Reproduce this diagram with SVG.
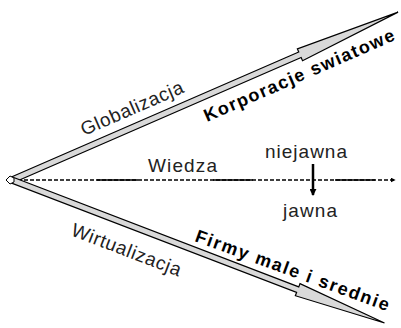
<svg xmlns="http://www.w3.org/2000/svg" width="401" height="328" viewBox="0 0 401 328">
  <style>
    .band { fill: #d9d9d9; stroke: #000; stroke-width: 1.2; stroke-linejoin: miter; }
    .lbl { font-family: "Liberation Sans", Arial, sans-serif; font-size: 19px; fill: #222; }
    .bold { font-weight: bold; font-size: 18px; fill: #000; }
    .axis { stroke: #000; stroke-width: 1.3; fill: none; }
  </style>
  <defs>
    <marker id="tipSmall" viewBox="0 0 8 8" refX="7" refY="4" markerWidth="5" markerHeight="5" orient="auto" markerUnits="userSpaceOnUse">
      <path d="M0,0 L8,4 L0,8 Z" fill="#000"/>
    </marker>
    <marker id="tipDown" viewBox="0 0 8 8" refX="7" refY="4" markerWidth="7" markerHeight="7" orient="auto" markerUnits="userSpaceOnUse">
      <path d="M0,0 L8,4 L0,8 Z" fill="#000"/>
    </marker>
  </defs>

  <g id="connectors">
    <!-- knowledge axis: dashed with solid stretches -->
    <path class="axis" d="M18,180 H395" stroke-dasharray="4 2" marker-end="url(#tipSmall)"/>
    <path class="axis" d="M97,180 H138 M213,180 H253 M335,180 H375"/>
    <!-- tacit to explicit -->
    <path d="M313,164 V195" stroke="#000" stroke-width="2.5" fill="none" marker-end="url(#tipDown)"/>
  </g>

  <g id="globalizacja-arrow" transform="translate(12,180) rotate(-23.5)">
    <polygon class="band" points="0,-3 314,-3 314,-6.5 421,0 314,6.5 314,3 0,3"/>
  </g>
  <g id="wirtualizacja-arrow" transform="translate(12,180) rotate(21)">
    <polygon class="band" points="0,-3 306,-3 306,-6.5 399,0 306,6.5 306,3 0,3"/>
  </g>
  <g id="origin">
    <polygon points="6,180 10,176 14,178 14,182 10,184" fill="#fff" stroke="#000" stroke-width="1"/>
  </g>

  <g id="globalizacja">
    <text class="lbl" transform="translate(84,136) rotate(-23.5)" textLength="110" lengthAdjust="spacing">Globalizacja</text>
  </g>
  <g id="korporacje">
    <text class="lbl bold" transform="translate(207,122) rotate(-23.5)" textLength="206" lengthAdjust="spacing">Korporacje swiatowe</text>
  </g>
  <g id="wiedza">
    <text class="lbl" x="148" y="172" textLength="69" lengthAdjust="spacing">Wiedza</text>
  </g>
  <g id="niejawna">
    <text class="lbl" x="265" y="158" textLength="82" lengthAdjust="spacing">niejawna</text>
  </g>
  <g id="jawna">
    <text class="lbl" x="283" y="217" textLength="54" lengthAdjust="spacing">jawna</text>
  </g>
  <g id="wirtualizacja">
    <text class="lbl" transform="translate(70,235) rotate(21)" textLength="116" lengthAdjust="spacing">Wirtualizacja</text>
  </g>
  <g id="firmy">
    <text class="lbl bold" transform="translate(194,241) rotate(20)" textLength="205" lengthAdjust="spacing">Firmy male i srednie</text>
  </g>
</svg>
